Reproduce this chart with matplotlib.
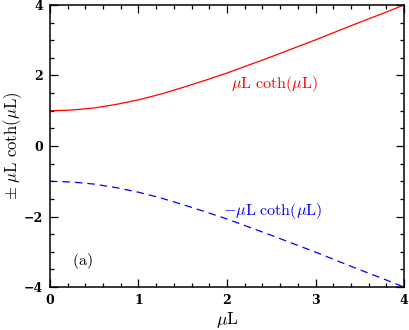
import matplotlib
matplotlib.use("Agg")
import matplotlib.pyplot as plt
from matplotlib.ticker import MultipleLocator

plt.rcParams['mathtext.fontset'] = 'cm'
plt.rcParams['font.family'] = 'DejaVu Serif'

# values
mu_l = [0.0, 0.25, 0.5, 0.75, 1.0, 1.25, 1.5, 1.75, 2.0,
        2.25, 2.5, 2.75, 3.0, 3.25, 3.5, 3.75, 4.0]
pos_curve = [1.0, 1.02, 1.08, 1.18, 1.31, 1.47, 1.66, 1.86, 2.07,
             2.30, 2.53, 2.77, 3.01, 3.26, 3.51, 3.75, 4.0]
neg_curve = [-v for v in pos_curve]

fig = plt.figure(figsize=(4.09, 3.30), dpi=100)
ax = fig.add_axes([0.122, 0.130, 0.866, 0.855])

ax.plot(mu_l, pos_curve, color='red', lw=0.9)
ax.plot(mu_l, neg_curve, color='blue', lw=0.9, ls=(0, (6, 4)))

ax.set_xlim(0, 4)
ax.set_ylim(-4, 4)
ax.xaxis.set_major_locator(MultipleLocator(1))
ax.xaxis.set_minor_locator(MultipleLocator(0.2))
ax.yaxis.set_major_locator(MultipleLocator(2))
ax.yaxis.set_minor_locator(MultipleLocator(0.5))
ax.tick_params(which='both', direction='in', top=True, right=True, width=0.9)
ax.tick_params(which='major', length=6, labelsize=9, pad=5)
ax.tick_params(which='minor', length=3)
for lab in ax.get_xticklabels() + ax.get_yticklabels():
    lab.set_fontweight('bold')
for s in ax.spines.values():
    s.set_linewidth(1.1)

ax.set_xlabel(r'$\mu\mathrm{L}$', fontsize=12.5)
ax.set_ylabel(r'$\pm\ \mu\mathrm{L}\ \mathrm{coth}(\mu\mathrm{L})$', fontsize=12)
ax.xaxis.set_label_coords(0.5, -0.08)
ax.yaxis.set_label_coords(-0.072, 0.5)

ax.text(2.53, 1.76, r'$\mu\mathrm{L}\ \mathrm{coth}(\mu\mathrm{L})$', color='red',
        fontsize=11.5, ha='center', va='center')
ax.text(2.52, -1.84, r'$-\mu\mathrm{L}\ \mathrm{coth}(\mu\mathrm{L})$', color='blue',
        fontsize=11.5, ha='center', va='center')
ax.text(0.37, -3.26, r'$\mathrm{(a)}$', fontsize=11.5, ha='center', va='center')

fig.savefig('out.png', dpi=100)
